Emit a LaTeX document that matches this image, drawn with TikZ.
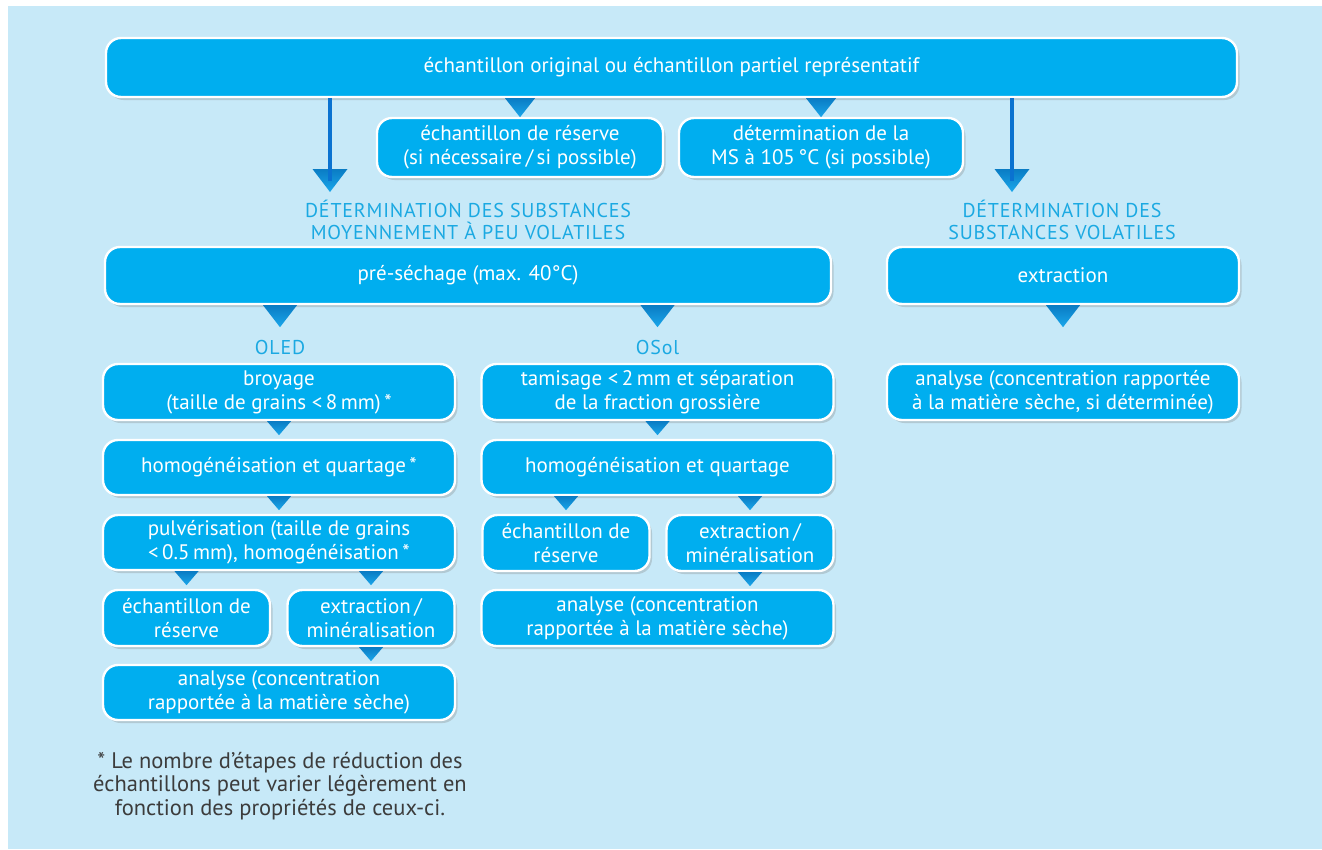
\documentclass[tikz,border=0pt]{standalone}
\usepackage{fontspec}
\setmainfont{PT Sans}
\newfontfamily\headfont[LetterSpace=4.0]{PT Sans}
\usepackage{xcolor}
\usepackage{tikz}
\usetikzlibrary{calc, shadows}

\definecolor{bgblue}{HTML}{C7E9F8}
\definecolor{boxcyan}{HTML}{00AEEF}
\definecolor{headcyan}{HTML}{1BA9E2}
\definecolor{tritop}{HTML}{0A7CC4}
\definecolor{tribot}{HTML}{1AA7EB}
\definecolor{linedark}{HTML}{0A72D0}
\definecolor{notegray}{HTML}{3C3C3C}

\tikzset{
    box/.style={draw=white, line width=2.4pt, fill=boxcyan, rounded corners=15pt,
        text=white, align=center, inner sep=0pt, font=\fontsize{21}{24}\selectfont,
        drop shadow={shadow xshift=2.5pt, shadow yshift=-3pt, opacity=0.3}},
    col/.style={box, minimum width=352pt, minimum height=56pt},
    half/.style={box, minimum width=167pt, minimum height=56pt},
    head/.style={text=headcyan, align=center, font=\headfont\fontsize{20}{21.5}\selectfont},
    tri/.style args={#1/#2}{top color=tritop, bottom color=tribot, draw=none,
        to path={($(\tikztostart)+(-#1,0)$) -- ($(\tikztostart)+(#1,0)$)
            -- ($(\tikztostart)+(0,#2)$) -- cycle}},
    longline/.style={draw=linedark, line width=3.5pt},
}

\begin{document}
\begin{tikzpicture}[x=1pt, y=-1pt]
    \useasboundingbox (0,0) rectangle (1322,849);
    \fill[bgblue] (8,6) rectangle (1322,849);

    % boites du haut
    \node[box, minimum width=1131pt, minimum height=59pt] (orig) at (671.5,67.5) {échantillon original ou échantillon partiel représentatif};
    \node[box, minimum width=286pt, minimum height=59pt] (res) at (520,147.5) {échantillon de réserve\\(si nécessaire\,/\,si possible)};
    \node[box, minimum width=284pt, minimum height=59pt] (ms) at (821,147.5) {détermination de la\\MS à 105\,°C (si possible)};

    \node[head] (volL) at (468,220) {DÉTERMINATION DES SUBSTANCES\\MOYENNEMENT À PEU VOLATILES};
    \node[head] (volR) at (1062,220) {DÉTERMINATION DES\\SUBSTANCES VOLATILES};

    \node[box, minimum width=726pt, minimum height=57pt] (presech) at (468,275.5) {pré-séchage (max. 40°C)};
    \node[box, minimum width=352pt, minimum height=57pt] (extr) at (1063,275.5) {extraction};

    \node[head] (oled) at (280,347) {OLED};
    \node[head] (osol) at (657.5,347) {OSol};

    % colonne OLED
    \node[col] (broy) at (279,392) {broyage\\(taille de grains <\,8\,mm)\,*};
    \node[col, minimum height=55pt] (homL) at (279,467.5) {homogénéisation et quartage\,*};
    \node[col, minimum height=55pt] (pulv) at (279,542.5) {pulvérisation (taille de grains\\<\,0.5\,mm), homogénéisation\,*};
    \node[half] (resL) at (186.5,618) {échantillon de\\réserve};
    \node[half] (extL) at (371,618) {extraction\,/\\minéralisation};
    \node[col, minimum height=55pt] (anaL) at (279,692.5) {analyse (concentration\\rapportée à la matière sèche)};

    % colonne OSol
    \node[col] (tamis) at (657.5,392) {tamisage <\,2\,mm et séparation\\de la fraction grossière};
    \node[col, minimum height=55pt] (homR) at (657.5,467.5) {homogénéisation et quartage};
    \node[half] (resR) at (566,543) {échantillon de\\réserve};
    \node[half] (extR) at (750,543) {extraction\,/\\minéralisation};
    \node[col] (anaM) at (657.5,618) {analyse (concentration\\rapportée à la matière sèche)};

    \node[col] (anaR) at (1063,392) {analyse (concentration rapportée\\à la matière sèche, si déterminée)};

    \node[text=notegray, align=center, font=\fontsize{22.5}{23.5}\selectfont] (note) at (280,786)
        {* Le nombre d’étapes de réduction des\\échantillons peut varier légèrement en\\fonction des propriétés de ceux-ci.};

    % fleches longues
    \coordinate (tipL) at (330,169);
    \coordinate (endL) at (330,181);
    \coordinate (tipR) at (1012,169);
    \coordinate (endR) at (1012,181);
    \path[tri=17.5/23] (tipL) to (volL.north);
    \path[tri=17.5/23] (tipR) to (volR.north);
    \draw[longline] (orig.south -| endL) -- (endL);
    \draw[longline] (orig.south -| endR) -- (endR);

    % triangles
    \path[tri=15/19] (orig.south -| res) to (res.north);
    \path[tri=15/19] (orig.south -| ms) to (ms.north);
    \path[tri=17/22] (presech.south -| oled) to (oled.north);
    \path[tri=17/22] (presech.south -| osol) to (osol.north);
    \path[tri=17/22] (extr.south) to (anaR.north);

    \path[tri=12/14] (broy.south) to (homL.north);
    \path[tri=12/14] (homL.south) to (pulv.north);
    \path[tri=12/14] (pulv.south -| resL) to (resL.north);
    \path[tri=12/14] (pulv.south -| extL) to (extL.north);
    \path[tri=12/14] (extL.south) to (anaL.north);

    \path[tri=12/14] (tamis.south) to (homR.north);
    \path[tri=12/14] (homR.south -| resR) to (resR.north);
    \path[tri=12/14] (homR.south -| extR) to (extR.north);
    \path[tri=12/14] (extR.south) to (anaM.north -| extR);
\end{tikzpicture}
\end{document}
